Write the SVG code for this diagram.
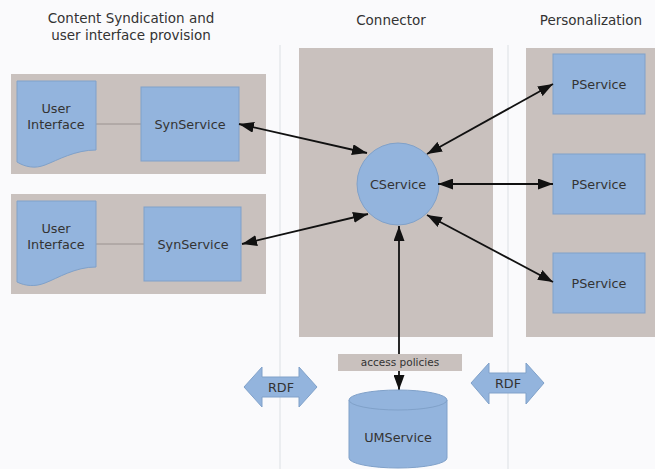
<svg xmlns="http://www.w3.org/2000/svg" width="655" height="469" viewBox="0 0 655 469">
<defs>
<style>
text{font-family:"DejaVu Sans","Liberation Sans",sans-serif;fill:#333;text-anchor:middle;dominant-baseline:central}
.title{font-size:13.5px}
.lbl{font-size:12.8px}
.small{font-size:10.5px}
.panel{fill:#c9c1be}
.blue{fill:#93b4dd;stroke:#80a1c9;stroke-width:1}
.sep{stroke:#e6e8ec;stroke-width:1.5}
.conn{stroke:#111;stroke-width:1.8;fill:none;marker-start:url(#ah);marker-end:url(#ah)}
.thin{stroke:#9a9290;stroke-width:1}
</style>
<marker id="ah" viewBox="0 0 10 10" refX="10" refY="5" markerWidth="15" markerHeight="11" markerUnits="userSpaceOnUse" orient="auto-start-reverse" preserveAspectRatio="none">
<path d="M0,0 L10,5 L0,10 Z" fill="#111"/>
</marker>
</defs>
<rect width="655" height="469" fill="#fafafc"/>
<line class="sep" x1="280" y1="45" x2="280" y2="469"/>
<line class="sep" x1="508" y1="45" x2="508" y2="469"/>

<g id="titles">
<text class="title" x="131" y="18">Content Syndication and</text>
<text class="title" x="131" y="35">user interface provision</text>
<text class="title" x="391" y="20">Connector</text>
<text class="title" x="591" y="20">Personalization</text>
</g>

<g id="panel-syn1"><rect class="panel" x="11" y="74" width="255" height="100"/></g>
<g id="panel-syn2"><rect class="panel" x="11" y="194" width="255" height="100"/></g>
<g id="panel-connector"><rect class="panel" x="299" y="48" width="194" height="289"/></g>
<g id="panel-personalization"><rect class="panel" x="526" y="48" width="129" height="289"/></g>

<g id="ui1">
<line class="thin" x1="96" y1="124" x2="141" y2="124"/>
<path class="blue" d="M17,81 H96 V150 C75,150 58,160 45,165 C35,169 25,167 17,162 Z"/>
<text class="lbl" x="56" y="108">User</text>
<text class="lbl" x="56" y="124">Interface</text>
</g>
<g id="synservice1">
<rect class="blue" x="141" y="87" width="98" height="74"/>
<text class="lbl" x="190" y="124">SynService</text>
</g>

<g id="ui2">
<line class="thin" x1="96" y1="244" x2="144" y2="244"/>
<path class="blue" d="M17,201 H96 V267 C75,267 58,278 45,283 C35,287 25,286 17,282 Z"/>
<text class="lbl" x="56" y="228">User</text>
<text class="lbl" x="56" y="244">Interface</text>
</g>
<g id="synservice2">
<rect class="blue" x="144" y="207" width="97" height="74"/>
<text class="lbl" x="193" y="244">SynService</text>
</g>

<g id="cservice">
<circle class="blue" cx="398" cy="184" r="41"/>
<text class="lbl" x="398" y="184">CService</text>
</g>

<g id="pservice1">
<rect class="blue" x="553" y="54" width="92" height="60"/>
<text class="lbl" x="599" y="84">PService</text>
</g>
<g id="pservice2">
<rect class="blue" x="553" y="154" width="92" height="60"/>
<text class="lbl" x="599" y="184">PService</text>
</g>
<g id="pservice3">
<rect class="blue" x="553" y="253" width="92" height="60"/>
<text class="lbl" x="599" y="283">PService</text>
</g>

<g id="connectors">
<line class="conn" x1="239" y1="124" x2="367" y2="153"/>
<line class="conn" x1="242" y1="244" x2="368" y2="214"/>
<line class="conn" x1="427" y1="154" x2="553" y2="84"/>
<line class="conn" x1="438" y1="184" x2="553" y2="184"/>
<line class="conn" x1="427" y1="215" x2="553" y2="282"/>
<line class="conn" x1="399" y1="226" x2="399" y2="390"/>
</g>

<g id="access-policies">
<rect x="338" y="354" width="124" height="17" fill="#c9c1be"/>
<text class="small" x="400" y="362">access policies</text>
</g>

<g id="umservice">
<path class="blue" d="M349,400 V458 A49,10 0 0 0 447,458 V400"/>
<ellipse class="blue" cx="398" cy="400" rx="49" ry="10"/>
<text class="lbl" x="398" y="437">UMService</text>
</g>

<g id="rdf-left">
<path class="blue" d="M244,387 L262,367 V377 H299 V367 L317,387 L299,407 V397 H262 V407 Z"/>
<text class="lbl" x="281" y="387">RDF</text>
</g>
<g id="rdf-right">
<path class="blue" d="M471,383 L489,363 V373 H526 V363 L544,383 L526,404 V393 H489 V404 Z"/>
<text class="lbl" x="508" y="383">RDF</text>
</g>
</svg>
